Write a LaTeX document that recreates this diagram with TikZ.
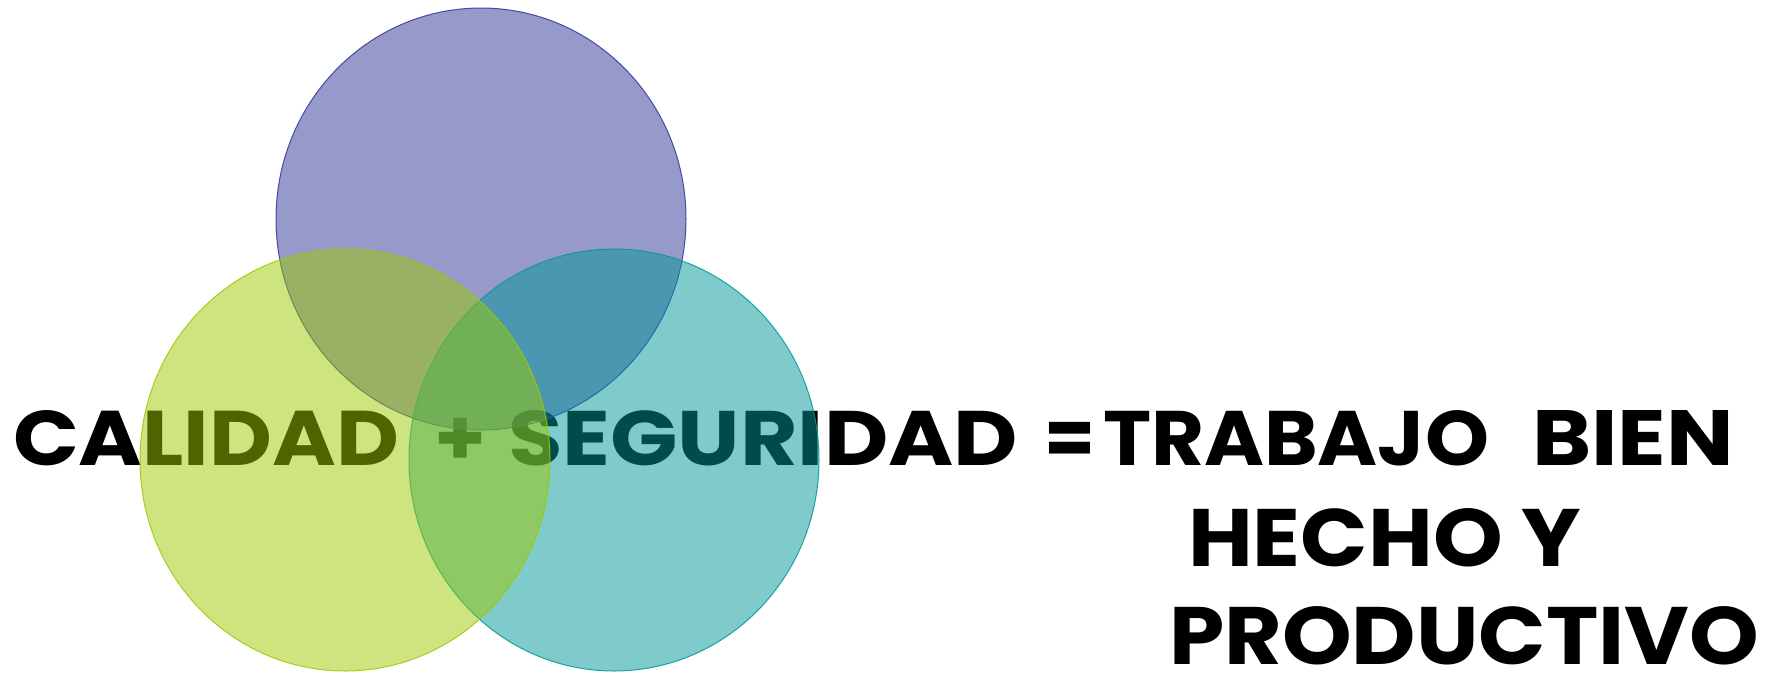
\documentclass[tikz,border=0pt]{standalone}
\usepackage{fontspec}
\usepackage{graphicx}
\newfontfamily\vfont{Poppins}
\definecolor{cTop}{RGB}{49,51,151}
\definecolor{cLeft}{RGB}{155,201,0}
\definecolor{cRight}{RGB}{0,151,153}
\begin{document}
\begin{tikzpicture}[x=1pt,y=-1pt]
\useasboundingbox (0,0) rectangle (1769,673);
\tikzset{
  word/.style={anchor=base west, inner sep=0pt, outer sep=0pt,
    font=\vfont\bfseries\fontsize{78}{80}\selectfont},
  sign/.style={word, anchor=base},
  venn/.style={fill=#1, fill opacity=0.5, draw=#1, draw opacity=0.85, line width=1pt}
}
% text (below the circles)
\node[word] (calidad) at (13,465) {\resizebox{386pt}{55pt}{CALIDAD}};
\node[sign] (plus) at (460,465) {\resizebox{52pt}{\height}{+}};
\node[word] (seguridad) at (508,465) {\resizebox{510pt}{55pt}{SEGURIDAD}};
\node[sign] (equals) at (1069.5,465) {\resizebox{51pt}{\height}{=}};
\node[word] (trabajo) at (1103,465) {\resizebox{386pt}{55pt}{TRABAJO}};
\node[word] (bien) at (1532,465) {\resizebox{202pt}{55pt}{BIEN}};
\node[word] (hecho) at (1188,566) {\resizebox{393pt}{58pt}{HECHO Y}};
\node[word] (productivo) at (1169,664) {\resizebox{590pt}{58pt}{PRODUCTIVO}};
% circles
\path[venn=cTop] (481,219) ellipse [x radius=205, y radius=211];
\path[venn=cRight] (614,460) ellipse [x radius=205, y radius=211];
\path[venn=cLeft] (345,460) ellipse [x radius=205, y radius=211];
\end{tikzpicture}
\end{document}
